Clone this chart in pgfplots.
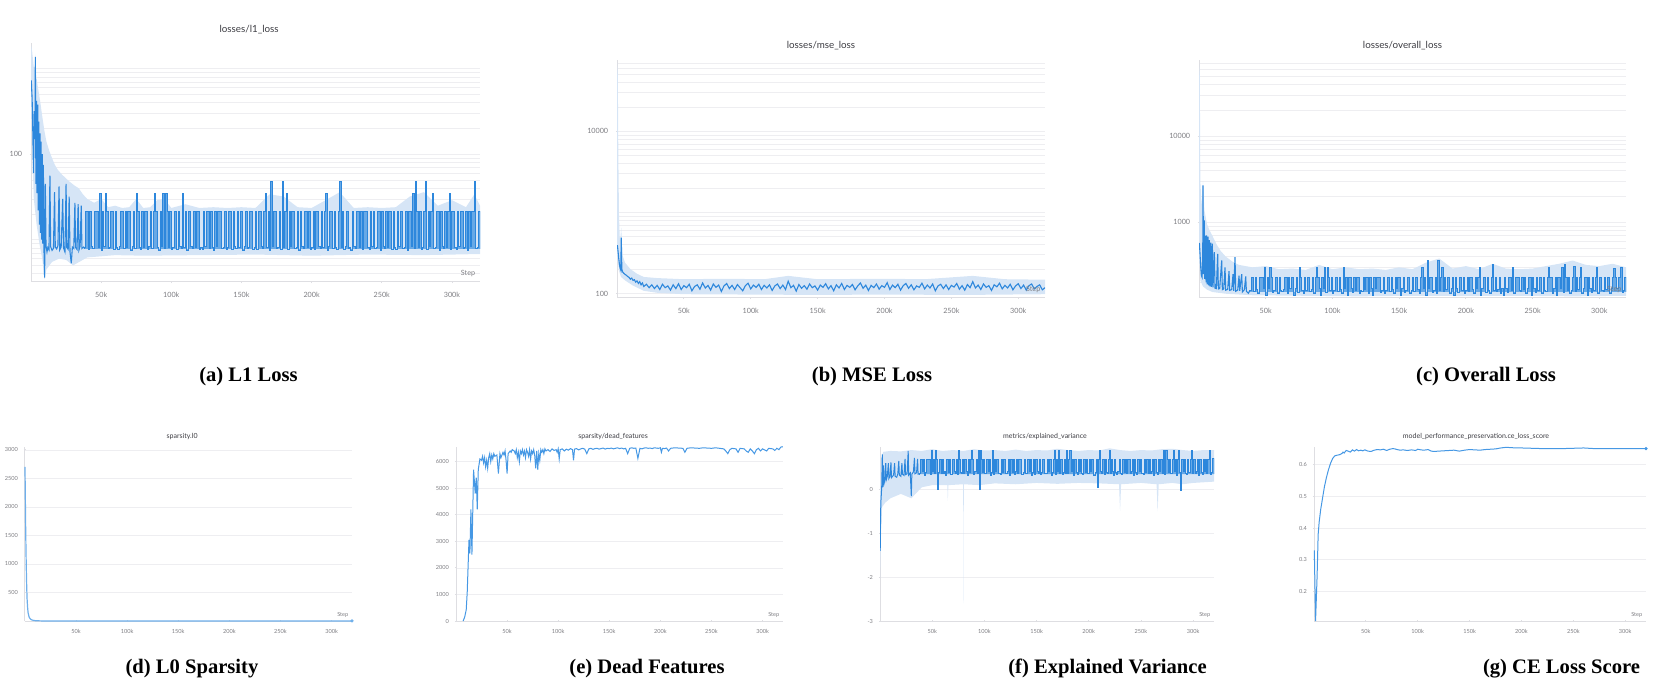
\documentclass[border=0pt]{standalone}
\usepackage{fontspec}
\setmainfont{Liberation Serif}
\newfontfamily\lato{Lato}
\usepackage{pgfplots}
\pgfplotsset{compat=1.18}
\definecolor{axisgray}{RGB}{222,222,226}
\definecolor{gridgray}{RGB}{238,238,241}
\definecolor{tickgray}{RGB}{125,125,130}
\definecolor{titlegray}{RGB}{60,60,66}
\definecolor{mainblue}{RGB}{45,135,220}
\definecolor{bandblue}{RGB}{214,229,246}
\definecolor{lightline}{RGB}{110,175,235}
\definecolor{eblue}{RGB}{70,152,228}
\pgfplotsset{
  wb/.style={scale only axis, axis x line=bottom, axis y line=left,
    axis line style={draw=axisgray,-,line width=0.5pt},
    xmin=0, xmax=320, xtick={50,100,150,200,250,300},
    xticklabels={50k,100k,150k,200k,250k,300k},
    major tick length=1.2pt, minor tick length=0pt,
    tick style={draw=axisgray,line width=0.4pt},
    ymajorgrids, major grid style={draw=gridgray,line width=0.35pt},
    minor grid style={draw=gridgray,line width=0.35pt},
    /pgf/number format/assume math mode=true, /pgf/number format/1000 sep={},
    tick label style={text=tickgray},
    title style={text=titlegray, at={(0.5,1)}, anchor=center},
  },
  row1/.style={wb, tick label style={font=\lato\fontsize{3.6}{4}\selectfont},
    xticklabel style={yshift=-0.9pt}, yticklabel style={xshift=-0.3pt},
    title style={font=\lato\fontsize{4.9}{6}\selectfont}},
  row2/.style={wb, width=163.5pt, height=87pt, ymajorgrids, tick label style={font=\lato\fontsize{2.8}{3.2}\selectfont},
    xticklabel style={yshift=0pt}, yticklabel style={xshift=0.6pt},
    title style={font=\lato\fontsize{3.5}{4.5}\selectfont, yshift=-1pt}},
  spikes/.style={mainblue, line width=0.5pt, const plot, fill=mainblue!72},
}
\newcommand{\steplabel}[1]{\node[anchor=south east, inner sep=0pt, text=tickgray, font=\lato\fontsize{#1}{#1}\selectfont] at (rel axis cs:0.99,0.02) {Step};}
\begin{document}
\begin{tikzpicture}
\path[use as bounding box] (0,0) rectangle (830.5pt,343.5pt);
% ---------------- (a) ----------------
\begin{axis}[row1, at={(15.5pt,202.5pt)}, anchor=south west, width=224.5pt, height=119.5pt,
  ymode=log, ymin=3.2, ymax=2000, ytick={100}, yticklabels={100},
  minor ytick={4,5,6,7,8,9,10,20,30,40,50,60,70,80,90,200,300,400,500,600,700,800,900,1000},
  yminorgrids, title={losses/l1\_loss}, title style={yshift=0.5pt, xshift=-3.2pt}]
\addplot[draw=none, fill=bandblue] coordinates {(0,1900) (0.8,1600) (1.6,1200) (2.4,900) (3.1,1500) (3.8,800) (5,600) (6.5,420) (8,280) (9.5,190) (11,140) (13,110) (15,90) (17,75) (19,66) (22,58) (25,52) (28,47) (31,43) (34,40) (37,34) (40,30) (45,27) (50,30) (55,24) (60,25) (65,23.5) (70,24) (75,30) (80,23.5) (85,24) (90,29) (95,30) (100,23.5) (110,26) (120,23.5) (130,24) (140,23.5) (150,24) (160,23.5) (170,34) (180,32) (190,24) (200,23.5) (210,29) (220,36) (230,23.5) (240,24) (250,23.5) (260,24) (270,32) (280,36) (290,25) (300,29) (310,24) (316,34) (320,25)
 (320,6.8) (280,6.6) (240,6.7) (200,6.5) (160,6.7) (120,6.6) (80,6.5) (60,6.6) (40,6.2) (30,5.0) (25,5.8) (20,6.0) (15,5.5) (11,4.5) (9.7,3.4) (8,6) (6,9) (4,15) (2,30) (1,100) (0,400)};
\addplot[mainblue, line width=0.55pt] coordinates {(0.2,730) (0.8,450) (1.3,180) (1.8,60) (2.3,320) (2.8,150) (3.1,1380) (3.5,45) (3.9,420) (4.3,35) (4.8,380) (5.2,22) (5.6,240) (6.0,15) (6.4,175) (6.8,12) (7.2,140) (7.6,10) (8.0,100) (8.4,9) (8.8,75) (9.3,7) (9.7,3.6) (10.2,45) (10.7,8.5) (11.4,7.2) (12,8.1) (12.8,7.6) (13.5,56) (14,8.3) (15,7.5) (16,7.9) (16.8,36) (17.3,8.2) (18.3,7.8) (19.2,8.5) (20,42) (20.5,7.6) (21.5,8.2) (22.6,30) (23.2,8) (24.2,7.2) (25,45) (25.5,8.1) (26.5,7.7) (27.2,32) (27.8,7.2) (28.7,5.3) (29.5,8.2) (30.5,7.9) (31.3,27) (31.8,8.1) (32.8,7.7) (33.6,26) (34.2,7.6) (35,8.4) (35.8,25) (36.3,7.9) (37.5,8.2) (38,8.0)};
\addplot[spikes] coordinates {(38,7.8)
(38,8.0)(39,21.5)(40,21.5)(41,7.7)(42,21.5)(43,8.3)(44,7.9)(45,21.5)(46,21.5)(47,21.5)(48,8.1)(49,35)(50,7.5)(51,21.5)(52,8.4)(53,35)(54,21.5)(55,7.8)(56,8.2)(57,21.5)(58,21.5)(59,7.6)(60,21.5)(61,8.0)(62,7.7)(63,8.3)(64,21.5)(65,21.5)(66,7.9)(67,21.5)(68,8.1)(69,21.5)(70,21.5)(71,7.5)(72,8.4)(73,21.5)(74,7.8)(75,35)(76,21.5)(77,8.2)(78,7.6)(79,21.5)(80,8.0)(81,21.5)(82,21.5)(83,7.7)(84,8.3)(85,21.5)(86,7.9)(87,21.5)(88,35)(89,21.5)(90,8.1)(91,7.5)(92,21.5)(93,8.4)(94,35)(95,7.8)(96,35)(97,21.5)(98,8.2)(99,21.5)(100,7.6)(101,8.0)(102,21.5)(103,21.5)(104,7.7)(105,21.5)(106,8.3)(107,7.9)(108,35)(109,8.1)(110,21.5)(111,7.5)(112,21.5)(113,21.5)(114,8.4)(115,7.8)(116,21.5)(117,8.2)(118,21.5)(119,21.5)(120,7.6)(121,8.0)(122,7.7)(123,21.5)(124,8.3)(125,21.5)(126,21.5)(127,7.9)(128,21.5)(129,8.1)(130,7.5)(131,21.5)(132,8.4)(133,21.5)(134,21.5)(135,21.5)(136,7.8)(137,8.2)(138,21.5)(139,7.6)(140,8.0)(141,21.5)(142,21.5)(143,7.7)(144,21.5)(145,8.3)(146,7.9)(147,21.5)(148,8.1)(149,21.5)(150,21.5)(151,7.5)(152,8.4)(153,21.5)(154,7.8)(155,8.2)(156,21.5)(157,21.5)(158,7.6)(159,8.0)(160,21.5)(161,7.7)(162,21.5)(163,21.5)(164,8.3)(165,7.9)(166,21.5)(167,35)(168,8.1)(169,21.5)(170,7.5)(171,48)(172,8.4)(173,21.5)(174,21.5)(175,7.8)(176,8.2)(177,21.5)(178,7.6)(179,48)(180,8.0)(181,21.5)(182,35)(183,7.7)(184,21.5)(185,8.3)(186,21.5)(187,21.5)(188,7.9)(189,8.1)(190,21.5)(191,7.5)(192,21.5)(193,8.4)(194,7.8)(195,21.5)(196,21.5)(197,8.2)(198,21.5)(199,7.6)(200,8.0)(201,21.5)(202,7.7)(203,21.5)(204,21.5)(205,8.3)(206,7.9)(207,21.5)(208,8.1)(209,21.5)(210,35)(211,7.5)(212,8.4)(213,21.5)(214,21.5)(215,7.8)(216,21.5)(217,8.2)(218,7.6)(219,21.5)(220,48)(221,8.0)(222,21.5)(223,7.7)(224,8.3)(225,21.5)(226,7.9)(227,8.1)(228,7.5)(229,21.5)(230,8.4)(231,7.8)(232,21.5)(233,21.5)(234,8.2)(235,21.5)(236,7.6)(237,21.5)(238,21.5)(239,21.5)(240,8.0)(241,7.7)(242,21.5)(243,8.3)(244,21.5)(245,7.9)(246,8.1)(247,21.5)(248,21.5)(249,7.5)(250,21.5)(251,8.4)(252,7.8)(253,21.5)(254,8.2)(255,21.5)(256,21.5)(257,7.6)(258,21.5)(259,8.0)(260,7.7)(261,21.5)(262,8.3)(263,21.5)(264,21.5)(265,7.9)(266,8.1)(267,21.5)(268,7.5)(269,21.5)(270,21.5)(271,8.4)(272,35)(273,7.8)(274,48)(275,21.5)(276,8.2)(277,21.5)(278,7.6)(279,8.0)(280,21.5)(281,48)(282,7.7)(283,21.5)(284,8.3)(285,21.5)(286,35)(287,7.9)(288,8.1)(289,21.5)(290,21.5)(291,7.5)(292,21.5)(293,8.4)(294,7.8)(295,21.5)(296,8.2)(297,21.5)(298,35)(299,7.6)(300,21.5)(301,21.5)(302,8.0)(303,7.7)(304,21.5)(305,8.3)(306,21.5)(307,21.5)(308,7.9)(309,8.1)(310,21.5)(311,7.5)(312,21.5)(313,8.4)(314,21.5)(315,21.5)(316,48)(317,7.8)(318,8.2)(319,21.5)(320,21.5)
(320,7.8)};
\steplabel{3.6}
\end{axis}
% ---------------- (b) ----------------
\begin{axis}[row1, at={(308.5pt,194.5pt)}, anchor=south west, width=214pt, height=119pt,
  ymode=log, ymin=88, ymax=76000, ytick={100,10000}, yticklabels={100,10000},
  minor ytick={200,300,400,500,600,700,800,900,1000,2000,3000,4000,5000,6000,7000,8000,9000,20000,30000,40000,50000,60000,70000},
  yminorgrids, title={losses/mse\_loss}, title style={yshift=1pt, xshift=-5pt}]
\addplot[draw=none, fill=bandblue] coordinates {(0,70000) (0.6,50000) (1,5000) (1.5,900) (2.2,420) (3.2,650) (4,300) (6,240) (10,200) (15,175) (20,160) (30,155) (50,150) (80,152) (110,150) (128,165) (150,150) (200,152) (230,150) (266,165) (290,150) (320,148)
 (320,98) (260,96) (200,97) (150,96) (100,97) (50,98) (30,102) (20,108) (12,125) (6,145) (3,160) (1.5,190) (0.6,250) (0,300)};
\addplot[mainblue, line width=0.55pt] coordinates {(0.3,395) (0.8,330) (1.3,270) (1.8,230) (2.3,205) (2.8,195) (3.2,490) (3.6,200) (4.2,185) (5,178) (6,172) (7,168) (8,162) (9,158) (10,150) (11,155) (12,145) (13,148) (14,138) (15,143) (16,133) (17,140) (18,128) (19,135) (20,122) (22,130) (24,118) (26,128) (28,115) (30,126) (32,112) (34,130) (36,118) (38,124) (40,110) (42,128) (44,115) (46,132) (48,112) (50,125) (52,118) (54,130) (56,108) (58,122) (60,128) (62,113) (64,135) (66,117) (68,126) (70,110) (72,131) (74,119) (76,127) (78,106) (80,124) (82,133) (84,115) (86,126) (88,112) (90,129) (92,118) (94,108) (96,125) (98,134) (100,114) (102,127) (104,119) (106,130) (108,112) (110,126) (112,117) (114,128) (116,109) (118,124) (120,131) (122,115) (124,127) (126,112) (128,142) (130,118) (132,126) (134,107) (136,129) (138,116) (140,125) (142,113) (144,131) (146,118) (148,124) (150,110) (152,127) (154,119) (156,132) (158,114) (160,125) (162,108) (164,128) (166,117) (168,133) (170,112) (172,126) (174,119) (176,129) (178,111) (180,124) (182,135) (184,116) (186,127) (188,109) (190,126) (192,118) (194,131) (196,113) (198,125) (200,119) (202,136) (204,112) (206,127) (208,118) (210,130) (212,110) (214,125) (216,133) (218,116) (220,128) (222,111) (224,124) (226,119) (228,134) (230,114) (232,127) (234,117) (236,131) (238,108) (240,124) (242,130) (244,115) (246,128) (248,112) (250,126) (252,120) (254,133) (256,113) (258,125) (260,110) (262,129) (264,118) (266,140) (268,117) (270,127) (272,112) (274,131) (276,119) (278,125) (280,109) (282,128) (284,121) (286,134) (288,114) (290,126) (292,117) (294,130) (296,111) (298,124) (300,132) (302,115) (304,127) (306,110) (308,125) (310,131) (312,114) (314,122) (316,128) (318,111) (320,118)};
\steplabel{3.6}
\end{axis}
% ---------------- (c) ----------------
\begin{axis}[row1, at={(599.5pt,194.5pt)}, anchor=south west, width=213.5pt, height=119pt,
  ymode=log, ymin=132, ymax=77000, ytick={1000,10000}, yticklabels={1000,10000},
  minor ytick={200,300,400,500,600,700,800,900,2000,3000,4000,5000,6000,7000,8000,9000,20000,30000,40000,50000,60000,70000},
  yminorgrids, title={losses/overall\_loss}, title style={yshift=1pt, xshift=-5pt}]
\addplot[draw=none, fill=bandblue] coordinates {(0,70000) (0.6,50000) (1,3000) (2,1500) (3,3000) (4,1400) (6,950) (8,800) (10,700) (13,560) (16,470) (20,400) (25,350) (30,320) (40,300) (50,310) (60,285) (70,290) (80,280) (90,320) (100,285) (110,300) (120,285) (130,290) (140,280) (150,300) (160,285) (170,340) (180,380) (190,290) (200,310) (210,285) (220,330) (230,290) (240,285) (250,290) (260,310) (270,330) (280,360) (290,320) (300,310) (310,330) (320,300)
 (320,140) (280,138) (240,140) (200,139) (160,140) (120,138) (80,140) (40,142) (20,148) (10,155) (6,165) (3,180) (1,210) (0,400)};
\addplot[mainblue, line width=0.55pt] coordinates {(0.3,575) (0.8,420) (1.3,300) (1.8,240) (2.3,230) (2.8,400) (3.0,2690) (3.4,250) (3.9,1050) (4.3,220) (4.8,700) (5.3,200) (5.7,705) (6.2,190) (6.7,680) (7.2,185) (7.7,620) (8.2,180) (8.8,580) (9.3,178) (10,565) (10.5,175) (11.5,450) (12,172) (13,170) (14,430) (14.5,168) (15.5,170) (17,360) (17.5,165) (18.5,168) (19.5,300) (20,163) (21.5,166) (22.5,270) (23,162) (24.5,165) (25.5,250) (26,160) (27,395) (27.5,158) (29,163) (30,240) (30.5,160) (32,250) (32.5,155) (34,165) (35,235) (35.5,158) (37,150) (38,160)};
\addplot[spikes] coordinates {(38,155)
(38,160)(39,230)(40,230)(41,155)(42,230)(43,165)(44,150)(45,230)(46,230)(47,230)(48,168)(49,300)(50,142)(51,230)(52,170)(53,300)(54,230)(55,153)(56,162)(57,230)(58,230)(59,148)(60,230)(61,160)(62,155)(63,165)(64,230)(65,230)(66,150)(67,230)(68,168)(69,230)(70,230)(71,142)(72,170)(73,230)(74,153)(75,300)(76,230)(77,162)(78,148)(79,230)(80,160)(81,230)(82,230)(83,155)(84,165)(85,230)(86,150)(87,230)(88,300)(89,230)(90,168)(91,142)(92,230)(93,170)(94,300)(95,153)(96,300)(97,230)(98,162)(99,230)(100,148)(101,160)(102,230)(103,230)(104,155)(105,230)(106,165)(107,150)(108,300)(109,168)(110,230)(111,142)(112,230)(113,230)(114,170)(115,153)(116,230)(117,162)(118,230)(119,230)(120,148)(121,160)(122,155)(123,230)(124,165)(125,230)(126,230)(127,150)(128,230)(129,168)(130,142)(131,230)(132,170)(133,230)(134,230)(135,230)(136,153)(137,162)(138,230)(139,148)(140,160)(141,230)(142,230)(143,155)(144,230)(145,165)(146,150)(147,230)(148,168)(149,230)(150,230)(151,142)(152,170)(153,230)(154,153)(155,162)(156,230)(157,230)(158,148)(159,160)(160,230)(161,155)(162,230)(163,230)(164,165)(165,150)(166,230)(167,300)(168,168)(169,230)(170,142)(171,360)(172,170)(173,230)(174,230)(175,153)(176,162)(177,230)(178,148)(179,360)(180,160)(181,230)(182,300)(183,155)(184,230)(185,165)(186,230)(187,230)(188,150)(189,168)(190,230)(191,142)(192,230)(193,170)(194,153)(195,230)(196,230)(197,162)(198,230)(199,148)(200,160)(201,230)(202,155)(203,230)(204,230)(205,165)(206,150)(207,230)(208,168)(209,230)(210,300)(211,142)(212,170)(213,230)(214,230)(215,153)(216,230)(217,162)(218,148)(219,230)(220,320)(221,160)(222,230)(223,155)(224,165)(225,230)(226,150)(227,168)(228,142)(229,230)(230,170)(231,153)(232,230)(233,230)(234,162)(235,300)(236,148)(237,230)(238,230)(239,230)(240,160)(241,155)(242,230)(243,165)(244,230)(245,150)(246,168)(247,230)(248,230)(249,142)(250,230)(251,170)(252,153)(253,230)(254,162)(255,230)(256,230)(257,148)(258,230)(259,160)(260,155)(261,230)(262,300)(263,230)(264,230)(265,150)(266,168)(267,230)(268,142)(269,230)(270,230)(271,170)(272,300)(273,153)(274,320)(275,230)(276,162)(277,230)(278,148)(279,160)(280,230)(281,310)(282,155)(283,230)(284,165)(285,230)(286,300)(287,150)(288,168)(289,230)(290,230)(291,142)(292,230)(293,170)(294,153)(295,230)(296,162)(297,230)(298,300)(299,148)(300,230)(301,230)(302,160)(303,155)(304,230)(305,165)(306,230)(307,230)(308,150)(309,168)(310,230)(311,290)(312,230)(313,170)(314,230)(315,230)(316,300)(317,153)(318,162)(319,230)(320,230)
(320,155)};
\steplabel{3.6}
\end{axis}
% ---------------- (d) ----------------
\begin{axis}[row2, at={(12.5pt,33pt)}, anchor=south west, ymin=0, ymax=3050,
  ytick={500,1000,1500,2000,2500,3000}, clip=false,
  title={sparsity.l0}, title style={xshift=-3.2pt}]
\addplot[lightline, line width=0.6pt] coordinates {(0,2700) (0.3,2200) (0.6,1700) (1,1200) (1.3,900) (1.6,650) (2,400) (2.5,250) (3,150) (4,70) (5,40) (6,25) (8,12) (10,6) (15,2) (20,1) (60,0.5) (320,0.5)};
\addplot[only marks, mark=*, mark size=0.6pt, lightline] coordinates {(320,0.5)};
\steplabel{2.8}
\end{axis}
% ---------------- (e) ----------------
\begin{axis}[row2, at={(228pt,33pt)}, anchor=south west, ymin=0, ymax=6550,
  ytick={0,1000,2000,3000,4000,5000,6000},
  title={sparsity/dead\_features}, title style={xshift=-3.2pt}]
\addplot[eblue, line width=0.5pt] coordinates {(7,0) (8.5,150) (10,420) (11,1100) (12.7,3050) (13.6,2550) (14.6,4200) (15.6,2500) (17.2,5700) (18.8,4800) (19.8,5400) (20.8,4200) (21.8,5700) (23.4,6100) (25,6050) (26,6200) (27,5950) (28,6150) (29,5800) (30,6050) (31,5750) (32,6150) (33,6300) (34,6000) (35,6250) (36,6100) (37,6300) (38,6200) (40,6250) (41.5,5550) (43,6300) (44,6150) (46,6350) (47,6250) (48,6400) (49,6050) (50,5550) (51,6300) (53,6400) (54,6350) (55,6450) (57,6400) (58,6300) (59,6450) (60,6150) (61,6350) (62,6000) (63,6400) (64,6300) (65,6450) (66,6250) (67,6400) (68,6150) (69,6450) (70,6350) (71,6200) (72,6450) (73,6100) (74,6400) (75,6300) (76,6450) (77,6250) (78,5750) (79,6400) (80,5700) (81,6300) (82,6050) (83,6450) (84,6350) (85,6450) (86,6300) (87,6480) (88,6400) (90,6450) (92,6380) (94,6480) (96,6420) (98,6450) (99,6350) (100,6480) (101,6100) (102,6450) (104,6480) (106,6400) (108,6470) (110,6430) (112,6490) (114,6450) (115,6050) (116,6470) (118,6490) (120,6440) (122,6480) (124,6500) (126,6470) (128,6300) (130,6480) (132,6500) (134,6460) (136,6490) (138,6500) (140,6470) (142,6490) (144,6510) (146,6470) (148,6500) (150,6490) (152,6510) (154,6480) (156,6500) (158,6520) (160,6490) (162,6510) (164,6480) (166,6500) (168,6300) (170,6500) (172,6520) (174,6500) (176,6510) (178,6120) (180,6500) (182,6480) (184,6510) (186,6520) (188,6500) (190,6510) (192,6490) (194,6520) (196,6510) (198,6500) (200,6520) (201,6350) (202,6500) (204,6490) (206,6510) (208,6400) (210,6500) (214,6520) (218,6510) (222,6500) (224,6350) (226,6500) (230,6520) (234,6510) (238,6500) (242,6520) (246,6510) (250,6500) (254,6520) (258,6500) (262,6480) (264,6400) (266,6300) (268,6450) (270,6500) (274,6480) (276,6350) (278,6500) (282,6480) (284,6400) (286,6350) (288,6480) (290,6400) (292,6300) (294,6450) (296,6500) (298,6400) (300,6480) (304,6400) (306,6500) (310,6480) (312,6420) (314,6500) (316,6450) (318,6550) (320,6560)};
\steplabel{2.8}
\end{axis}
% ---------------- (f) ----------------
\begin{axis}[row2, at={(440pt,33pt)}, anchor=south west, width=167pt, ymin=-3, ymax=0.97,
  ytick={-3,-2,-1,0},
  title={metrics/explained\_variance}, title style={xshift=-1pt}]
\addplot[draw=none, fill=bandblue] coordinates {(0,-0.2) (1,0.7) (3,0.86) (10,0.88) (20,0.87) (30,0.9) (40,0.88) (50,0.92) (60,0.88) (70,0.9) (80,0.88) (90,0.92) (100,0.89) (110,0.9) (120,0.88) (130,0.91) (140,0.88) (150,0.9) (160,0.89) (170,0.93) (180,0.9) (190,0.88) (200,0.9) (210,0.89) (220,0.94) (230,0.9) (240,0.88) (250,0.9) (260,0.89) (270,0.92) (280,0.93) (290,0.9) (300,0.88) (310,0.9) (320,0.9)
 (320,0.18) (300,0.15) (290,0.12) (280,0.15) (267,0.12) (266,-0.5) (265,0.12) (250,0.15) (231,0.12) (230,-0.49) (229,0.12) (210,0.14) (190,0.15) (170,0.13) (150,0.15) (130,0.12) (110,0.14) (95,0.1) (80.3,0.12) (80,-2.6) (79.7,0.12) (65.5,0.1) (65,-0.26) (64.5,0.1) (50,0.1) (40,0.05) (30,-0.2) (20,-0.1) (10,-0.2) (5,-0.3) (2,-0.4) (1,-1.0) (0,-2.0)};
\addplot[mainblue, line width=0.5pt] coordinates {(0.2,-1.4) (0.6,-0.5) (1.0,-0.2) (1.3,-0.1) (1.7,0.1) (2.2,0.8) (2.6,0.05) (3.0,0.2) (3.5,0.55) (4,0.15) (5,0.25) (5.5,0.6) (6,0.22) (7,0.3) (8,0.6) (8.5,0.25) (9.5,0.3) (10.5,0.62) (11,0.27) (12,0.3) (13,0.33) (14,0.6) (14.5,0.3) (16,0.28) (17,0.35) (18,0.65) (18.5,0.33) (20,0.3) (21,0.6) (21.5,0.35) (23,0.32) (24,0.7) (24.5,0.34) (26,0.36) (27,0.88) (27.5,0.33) (29,0.38) (30,-0.15) (30.5,0.35) (32,0.4) (33,0.72) (33.5,0.36) (35,0.38) (36,0.7) (36.5,0.35) (38,0.36)};
\addplot[spikes] coordinates {(38,0.35)
(38,0.36)(39,0.69)(40,0.69)(41,0.40)(42,0.69)(43,0.33)(44,0.38)(45,0.69)(46,0.69)(47,0.69)(48,0.35)(49,0.88)(50,0.41)(51,0.69)(52,0.37)(53,0.88)(54,0.69)(55,0.0)(56,0.39)(57,0.69)(58,0.69)(59,0.36)(60,0.69)(61,0.36)(62,0.40)(63,0.33)(64,0.69)(65,0.69)(66,0.38)(67,0.69)(68,0.35)(69,0.69)(70,0.69)(71,0.41)(72,0.37)(73,0.69)(74,0.34)(75,0.88)(76,0.69)(77,0.39)(78,0.36)(79,0.69)(80,0.36)(81,0.69)(82,0.69)(83,0.40)(84,0.33)(85,0.69)(86,0.38)(87,0.69)(88,0.88)(89,0.69)(90,0.35)(91,0.41)(92,0.69)(93,0.37)(94,0.88)(95,0.0)(96,0.88)(97,0.69)(98,0.39)(99,0.69)(100,0.36)(101,0.36)(102,0.69)(103,0.69)(104,0.40)(105,0.69)(106,0.33)(107,0.38)(108,0.88)(109,0.35)(110,0.69)(111,0.41)(112,0.69)(113,0.69)(114,0.37)(115,0.34)(116,0.69)(117,0.39)(118,0.69)(119,0.69)(120,0.36)(121,0.36)(122,0.40)(123,0.69)(124,0.33)(125,0.69)(126,0.69)(127,0.38)(128,0.69)(129,0.35)(130,0.41)(131,0.69)(132,0.37)(133,0.69)(134,0.69)(135,0.69)(136,0.34)(137,0.39)(138,0.69)(139,0.36)(140,0.36)(141,0.69)(142,0.69)(143,0.40)(144,0.69)(145,0.33)(146,0.38)(147,0.69)(148,0.35)(149,0.69)(150,0.69)(151,0.41)(152,0.37)(153,0.69)(154,0.34)(155,0.39)(156,0.69)(157,0.69)(158,0.36)(159,0.36)(160,0.69)(161,0.40)(162,0.69)(163,0.69)(164,0.33)(165,0.38)(166,0.69)(167,0.88)(168,0.35)(169,0.69)(170,0.41)(171,0.90)(172,0.37)(173,0.69)(174,0.69)(175,0.34)(176,0.39)(177,0.69)(178,0.36)(179,0.90)(180,0.36)(181,0.69)(182,0.88)(183,0.40)(184,0.69)(185,0.33)(186,0.69)(187,0.69)(188,0.38)(189,0.35)(190,0.69)(191,0.41)(192,0.69)(193,0.37)(194,0.34)(195,0.69)(196,0.69)(197,0.39)(198,0.69)(199,0.36)(200,0.36)(201,0.69)(202,0.40)(203,0.69)(204,0.69)(205,0.33)(206,0.38)(207,0.69)(208,0.05)(209,0.69)(210,0.88)(211,0.41)(212,0.37)(213,0.69)(214,0.69)(215,0.34)(216,0.69)(217,0.39)(218,0.36)(219,0.69)(220,0.90)(221,0.36)(222,0.69)(223,0.40)(224,0.33)(225,0.69)(226,0.38)(227,0.35)(228,0.41)(229,0.69)(230,0.37)(231,0.34)(232,0.69)(233,0.69)(234,0.39)(235,0.69)(236,0.36)(237,0.69)(238,0.69)(239,0.69)(240,0.36)(241,0.40)(242,0.69)(243,0.33)(244,0.69)(245,0.38)(246,0.35)(247,0.69)(248,0.69)(249,0.41)(250,0.69)(251,0.37)(252,0.34)(253,0.69)(254,0.39)(255,0.69)(256,0.69)(257,0.36)(258,0.69)(259,0.36)(260,0.40)(261,0.69)(262,0.33)(263,0.69)(264,0.69)(265,0.38)(266,0.35)(267,0.69)(268,0.41)(269,0.69)(270,0.69)(271,0.37)(272,0.88)(273,0.34)(274,0.90)(275,0.69)(276,0.39)(277,0.69)(278,0.36)(279,0.36)(280,0.69)(281,0.90)(282,0.40)(283,0.69)(284,0.33)(285,0.69)(286,0.88)(287,0.38)(288,-0.03)(289,0.69)(290,0.69)(291,0.41)(292,0.69)(293,0.37)(294,0.34)(295,0.69)(296,0.39)(297,0.69)(298,0.88)(299,0.36)(300,0.69)(301,0.69)(302,0.36)(303,0.40)(304,0.69)(305,0.33)(306,0.69)(307,0.69)(308,0.38)(309,0.35)(310,0.69)(311,0.41)(312,0.69)(313,0.37)(314,0.69)(315,0.69)(316,0.90)(317,0.34)(318,0.39)(319,0.70)(320,0.70)
(320,0.35)};
\steplabel{2.8}
\end{axis}
% ---------------- (g) ----------------
\begin{axis}[row2, at={(657pt,33pt)}, anchor=south west, width=166pt, ymin=0.107, ymax=0.656,
  ytick={0.2,0.3,0.4,0.5,0.6}, yticklabels={0.2,0.3,0.4,0.5,0.6}, clip=false,
  title={model\_performance\_preservation.ce\_loss\_score}, title style={xshift=-2pt}]
\addplot[eblue, line width=0.5pt] coordinates {(0.3,0.33) (1.5,0.107) (3,0.25) (4,0.38) (5,0.42) (6.5,0.46) (8,0.49) (10,0.53) (12,0.56) (14,0.585) (16,0.605) (18,0.62) (20,0.628) (22,0.63) (25,0.632) (27,0.636) (28,0.64) (29,0.637) (31,0.645) (33,0.643) (35,0.64) (37,0.647) (39,0.643) (41,0.648) (43,0.644) (45,0.646) (47,0.644) (49,0.647) (52,0.643) (55,0.642) (58,0.646) (61,0.648) (64,0.647) (67,0.649) (70,0.645) (73,0.649) (76,0.651) (78,0.65) (80,0.648) (83,0.646) (86,0.647) (90,0.645) (94,0.647) (98,0.645) (100,0.649) (103,0.647) (106,0.646) (110,0.648) (113,0.643) (116,0.642) (120,0.643) (125,0.644) (130,0.645) (135,0.646) (140,0.643) (145,0.646) (150,0.648) (155,0.647) (160,0.646) (165,0.648) (170,0.649) (175,0.65) (180,0.653) (185,0.655) (190,0.654) (195,0.653) (200,0.653) (210,0.652) (220,0.651) (230,0.651) (240,0.651) (250,0.652) (260,0.653) (270,0.651) (280,0.651) (290,0.651) (300,0.651) (310,0.651) (320,0.651)};
\addplot[only marks, mark=*, mark size=0.6pt, eblue] coordinates {(320,0.651)};
\steplabel{2.8}
\end{axis}
% ---------------- captions ----------------
\begin{scope}[font=\bfseries\fontsize{10.3}{12}\selectfont]
\node[anchor=base] at (124.25pt,152.6pt) {(a) L1 Loss};
\node[anchor=base] at (436pt,152.6pt) {(b) MSE Loss};
\node[anchor=base] at (743pt,152.6pt) {(c) Overall Loss};
\node[anchor=base] at (96pt,7pt) {(d) L0 Sparsity};
\node[anchor=base] at (323.5pt,7pt) {(e) Dead Features};
\node[anchor=base] at (553.75pt,7pt) {(f) Explained Variance};
\node[anchor=base] at (780.75pt,7pt) {(g) CE Loss Score};
\end{scope}
\end{tikzpicture}
\end{document}
